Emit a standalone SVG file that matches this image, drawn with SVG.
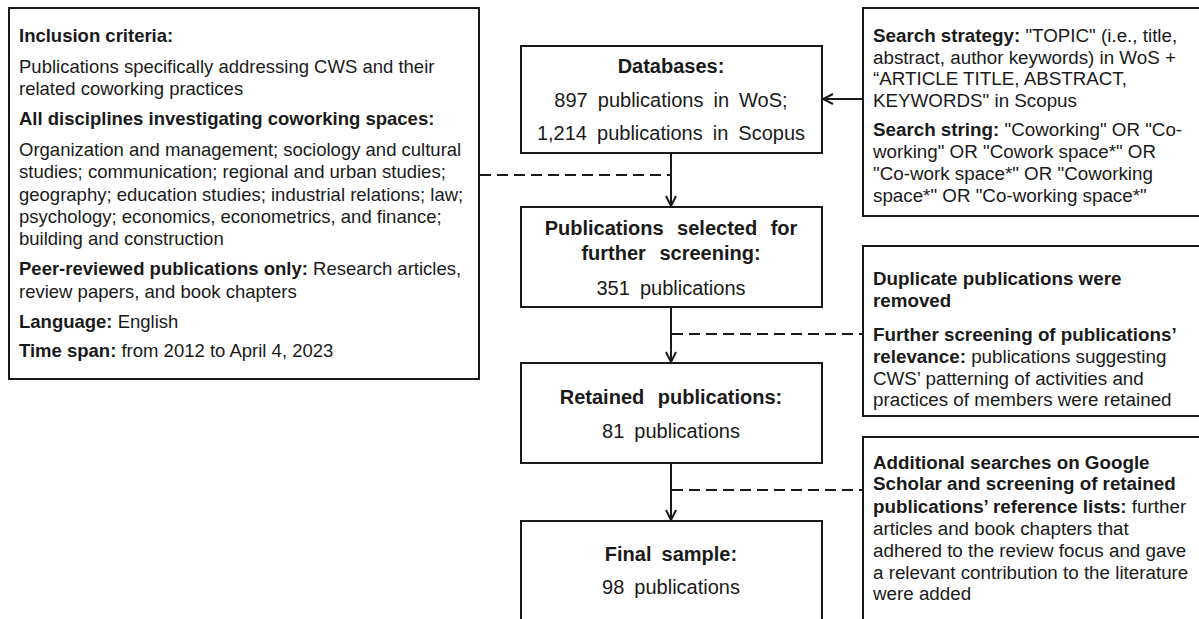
<svg xmlns="http://www.w3.org/2000/svg" width="1199" height="619" viewBox="0 0 1199 619">
  <style>
    .box { fill: #ffffff; stroke: #1a1a1a; stroke-width: 2; }
    .txt { font-family: "Liberation Sans", Arial, sans-serif; fill: #1a1a1a; }
    .side { font-size: 18.5px; }
    .rside { font-size: 18.8px; }
    .mid { font-size: 20px; text-anchor: middle; word-spacing: 4.5px; }
    .wider { word-spacing: 8px; }
    .b { font-weight: bold; }
    .flow { stroke: #1a1a1a; stroke-width: 2; fill: none; }
    .dash { stroke: #1a1a1a; stroke-width: 2; fill: none; stroke-dasharray: 11 6; }
  </style>
  <defs>
    <marker id="arrow" viewBox="0 0 12 12" refX="11" refY="6" markerWidth="12" markerHeight="12" markerUnits="userSpaceOnUse" orient="auto">
      <path d="M1,1 L11,6 L1,11" fill="none" stroke="#1a1a1a" stroke-width="2"/>
    </marker>
  </defs>

  <rect width="1199" height="619" fill="#ffffff"/>

  <!-- Connectors -->
  <g id="connectors">
    <line class="flow" x1="671" y1="153" x2="671" y2="206" marker-end="url(#arrow)"/>
    <line class="flow" x1="671" y1="307" x2="671" y2="362" marker-end="url(#arrow)"/>
    <line class="flow" x1="671" y1="463" x2="671" y2="520" marker-end="url(#arrow)"/>
    <line class="flow" x1="863" y1="99" x2="823" y2="99" marker-end="url(#arrow)"/>
    <line class="dash" x1="480" y1="175" x2="670" y2="175"/>
    <line class="dash" x1="672" y1="334" x2="862" y2="334"/>
    <line class="dash" x1="672" y1="490" x2="862" y2="490"/>
  </g>

  <!-- Inclusion criteria -->
  <g id="inclusion">
    <rect class="box" x="9" y="8" width="470" height="371"/>
    <text class="txt side" x="19" y="42"><tspan class="b">Inclusion criteria:</tspan></text>
    <text class="txt side" x="19" y="73">Publications specifically addressing CWS and their</text>
    <text class="txt side" x="19" y="95">related coworking practices</text>
    <text class="txt side" x="19" y="125"><tspan class="b">All disciplines investigating coworking spaces:</tspan></text>
    <text class="txt side" x="19" y="156">Organization and management; sociology and cultural</text>
    <text class="txt side" x="19" y="178">studies; communication; regional and urban studies;</text>
    <text class="txt side" x="19" y="200.5">geography; education studies; industrial relations; law;</text>
    <text class="txt side" x="19" y="223">psychology; economics, econometrics, and finance;</text>
    <text class="txt side" x="19" y="245">building and construction</text>
    <text class="txt side" x="19" y="275"><tspan class="b">Peer-reviewed publications only:</tspan> Research articles,</text>
    <text class="txt side" x="19" y="297.5">review papers, and book chapters</text>
    <text class="txt side" x="19" y="328"><tspan class="b">Language:</tspan> English</text>
    <text class="txt side" x="19" y="357"><tspan class="b">Time span:</tspan> from 2012 to April 4, 2023</text>
  </g>

  <!-- Databases -->
  <g id="databases">
    <rect class="box" x="521" y="46" width="301" height="107"/>
    <text class="txt mid b" x="671" y="73">Databases:</text>
    <text class="txt mid" x="671" y="107">897 publications in WoS;</text>
    <text class="txt mid" x="671" y="140">1,214 publications in Scopus</text>
  </g>

  <!-- Selected for screening -->
  <g id="selected">
    <rect class="box" x="521" y="207" width="301" height="100"/>
    <text class="txt mid b wider" x="671" y="235">Publications selected for</text>
    <text class="txt mid b wider" x="671" y="260">further screening:</text>
    <text class="txt mid" x="671" y="295">351 publications</text>
  </g>

  <!-- Retained -->
  <g id="retained">
    <rect class="box" x="521" y="363" width="301" height="100"/>
    <text class="txt mid b wider" x="671" y="404">Retained publications:</text>
    <text class="txt mid" x="671" y="438">81 publications</text>
  </g>

  <!-- Final sample -->
  <g id="final">
    <rect class="box" x="521" y="521" width="301" height="110"/>
    <text class="txt mid b" x="671" y="561">Final sample:</text>
    <text class="txt mid" x="671" y="594">98 publications</text>
  </g>

  <!-- Search strategy -->
  <g id="search">
    <rect class="box" x="863" y="8" width="345" height="208"/>
    <text class="txt rside" x="873" y="42"><tspan class="b">Search strategy:</tspan> "TOPIC" (i.e., title,</text>
    <text class="txt rside" x="873" y="63.5">abstract, author keywords) in WoS +</text>
    <text class="txt rside" x="873" y="85">“ARTICLE TITLE, ABSTRACT,</text>
    <text class="txt rside" x="873" y="106.5">KEYWORDS" in Scopus</text>
    <text class="txt rside" x="873" y="136"><tspan class="b">Search string:</tspan> "Coworking" OR "Co-</text>
    <text class="txt rside" x="873" y="158">working" OR "Cowork space*" OR</text>
    <text class="txt rside" x="873" y="180">"Co-work space*" OR "Coworking</text>
    <text class="txt rside" x="873" y="201.5">space*" OR "Co-working space*"</text>
  </g>

  <!-- Duplicate removal and relevance screening -->
  <g id="screening">
    <rect class="box" x="863" y="246" width="345" height="170"/>
    <text class="txt rside" x="873" y="285"><tspan class="b">Duplicate publications were</tspan></text>
    <text class="txt rside" x="873" y="306.5"><tspan class="b">removed</tspan></text>
    <text class="txt rside" x="873" y="340.5"><tspan class="b">Further screening of publications’</tspan></text>
    <text class="txt rside" x="873" y="362.5"><tspan class="b">relevance:</tspan> publications suggesting</text>
    <text class="txt rside" x="873" y="384.5">CWS’ patterning of activities and</text>
    <text class="txt rside" x="873" y="406">practices of members were retained</text>
  </g>

  <!-- Additional searches -->
  <g id="additional">
    <rect class="box" x="863" y="437" width="345" height="200"/>
    <text class="txt rside" x="873" y="468.5"><tspan class="b">Additional searches on Google</tspan></text>
    <text class="txt rside" x="873" y="490"><tspan class="b">Scholar and screening of retained</tspan></text>
    <text class="txt rside" x="873" y="512.5"><tspan class="b">publications’ reference lists:</tspan> further</text>
    <text class="txt rside" x="873" y="535">articles and book chapters that</text>
    <text class="txt rside" x="873" y="556.5">adhered to the review focus and gave</text>
    <text class="txt rside" x="873" y="578.5">a relevant contribution to the literature</text>
    <text class="txt rside" x="873" y="600">were added</text>
  </g>
</svg>
